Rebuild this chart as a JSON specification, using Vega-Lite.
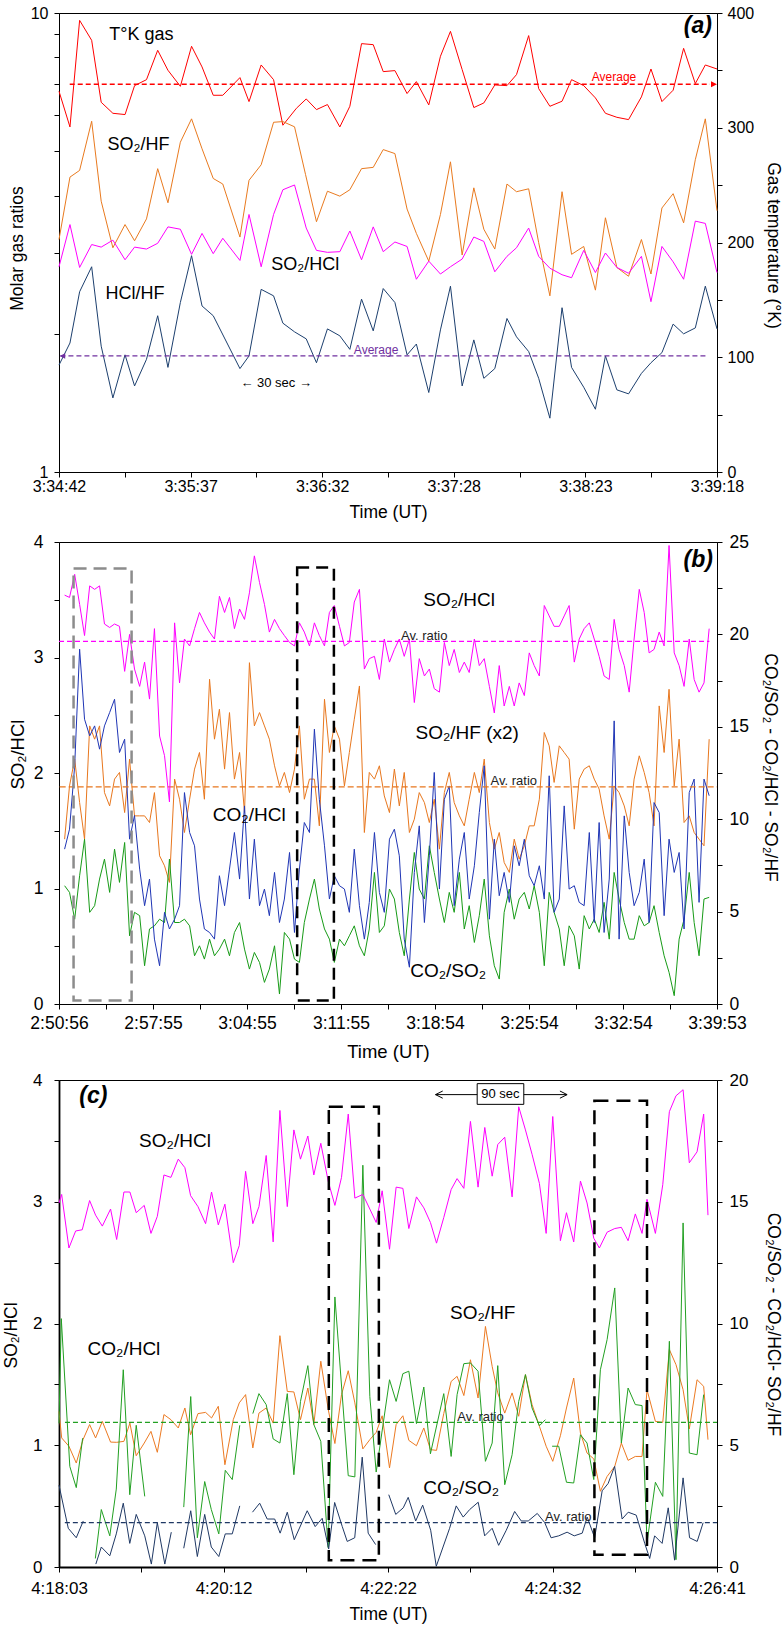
{
"$schema":"https://vega.github.io/schema/vega-lite/v6.json",
"padding":{"left":1,"top":4,"right":2,"bottom":2},
"datasets":{
"a_T":[{"t":0,"v":331.8},{"t":4.6,"v":300.7},{"t":8.65,"v":393.6},{"t":13.7,"v":376.2},{"t":17.7,"v":322.2},{"t":22.6,"v":312.6},{"t":27.7,"v":311.5},{"t":31.7,"v":336.7},{"t":36.7,"v":341.9},{"t":41.4,"v":367.5},{"t":45.7,"v":350.1},{"t":50.9,"v":336.1},{"t":55.6,"v":371},{"t":60,"v":353},{"t":64.7,"v":328.3},{"t":68.7,"v":328.3},{"t":75.9,"v":343.7},{"t":79.7,"v":322.8},{"t":84.8,"v":354.7},{"t":90,"v":341.9},{"t":93.9,"v":302.2},{"t":99.6,"v":317},{"t":103.7,"v":325.1},{"t":108,"v":315.8},{"t":112.6,"v":320.2},{"t":117.8,"v":300.7},{"t":122,"v":318.7},{"t":126.9,"v":373.3},{"t":131.8,"v":372.4},{"t":136,"v":348.9},{"t":140.9,"v":349.8},{"t":146,"v":329.8},{"t":149.9,"v":340.2},{"t":155.1,"v":319.9},{"t":160,"v":362.3},{"t":164.2,"v":384},{"t":169.1,"v":350.7},{"t":174,"v":317.6},{"t":178.2,"v":321.6},{"t":182.8,"v":337.3},{"t":187.9,"v":336.7},{"t":191.9,"v":346.3},{"t":197,"v":380.3},{"t":201.2,"v":334.1},{"t":205.9,"v":318.7},{"t":211,"v":323.1},{"t":215,"v":341.9},{"t":220.1,"v":336.7},{"t":225,"v":326},{"t":229.2,"v":312.6},{"t":234,"v":309.1},{"t":238.9,"v":307.1},{"t":244.3,"v":326.9},{"t":248.3,"v":351.2},{"t":252.9,"v":322.8},{"t":257.6,"v":332.7},{"t":262,"v":369.2},{"t":266.9,"v":338.5},{"t":271.1,"v":354.7},{"t":276,"v":351.2}],
"a_hf":[{"t":0,"v":3.21},{"t":4.6,"v":4.39},{"t":8.65,"v":4.54},{"t":13.7,"v":5.81},{"t":17.7,"v":3.89},{"t":22.6,"v":3.08},{"t":27.7,"v":3.46},{"t":31.7,"v":3.19},{"t":36.7,"v":3.56},{"t":41.4,"v":4.58},{"t":45.7,"v":3.86},{"t":50.9,"v":5.23},{"t":55.6,"v":5.88},{"t":60,"v":5.06},{"t":64.7,"v":4.36},{"t":68.7,"v":4.24},{"t":75.9,"v":3.25},{"t":79.7,"v":4.32},{"t":84.8,"v":4.67},{"t":90,"v":5.78},{"t":93.9,"v":5.8},{"t":98.8,"v":5.65},{"t":103.4,"v":4.45},{"t":108,"v":3.51},{"t":112.6,"v":4.09},{"t":117.8,"v":3.99},{"t":122,"v":4.12},{"t":126.9,"v":4.58},{"t":131.8,"v":4.61},{"t":136,"v":5.04},{"t":140.9,"v":4.94},{"t":146,"v":3.74},{"t":149.9,"v":3.31},{"t":155.1,"v":2.88},{"t":160,"v":3.64},{"t":164.2,"v":4.74},{"t":169.1,"v":2.97},{"t":174,"v":4.16},{"t":178.2,"v":3.38},{"t":182.8,"v":3.06},{"t":187.9,"v":4.24},{"t":191.9,"v":4.08},{"t":197,"v":4.14},{"t":201.2,"v":3.16},{"t":205.9,"v":2.42},{"t":211,"v":4.08},{"t":215,"v":2.98},{"t":220.1,"v":3.1},{"t":225,"v":2.49},{"t":229.2,"v":3.58},{"t":234,"v":2.79},{"t":238.9,"v":2.67},{"t":244.3,"v":3.21},{"t":248.3,"v":2.7},{"t":252.9,"v":3.76},{"t":257.6,"v":4.04},{"t":262,"v":3.49},{"t":266.9,"v":4.79},{"t":271.1,"v":5.88},{"t":276,"v":3.71}],
"a_hcl":[{"t":0,"v":2.8},{"t":4.6,"v":3.46},{"t":8.65,"v":2.79},{"t":13.7,"v":3.13},{"t":17.7,"v":3.09},{"t":22.6,"v":3.2},{"t":27.7,"v":2.9},{"t":31.7,"v":3.09},{"t":36.7,"v":3.06},{"t":41.4,"v":3.15},{"t":45.7,"v":3.42},{"t":50.9,"v":3.38},{"t":55.6,"v":2.98},{"t":60,"v":3.31},{"t":64.7,"v":2.99},{"t":68.7,"v":3.23},{"t":75.9,"v":2.89},{"t":79.7,"v":3.64},{"t":84.8,"v":2.8},{"t":90,"v":3.64},{"t":93.9,"v":4.12},{"t":98.8,"v":4.22},{"t":103.7,"v":3.4},{"t":108,"v":3.04},{"t":112.6,"v":3.01},{"t":117.8,"v":3.02},{"t":122,"v":3.35},{"t":126.9,"v":2.9},{"t":131.8,"v":3.42},{"t":136,"v":3.02},{"t":140.9,"v":3.17},{"t":146,"v":3.1},{"t":149.9,"v":2.63},{"t":155.1,"v":2.88},{"t":160,"v":2.7},{"t":164.2,"v":2.8},{"t":169.1,"v":2.91},{"t":174,"v":3.25},{"t":178.2,"v":3.18},{"t":182.8,"v":2.73},{"t":187.9,"v":2.95},{"t":191.9,"v":3.08},{"t":197,"v":3.4},{"t":201.2,"v":2.95},{"t":205.9,"v":2.78},{"t":211,"v":2.69},{"t":215,"v":2.65},{"t":220.1,"v":3.04},{"t":225,"v":2.72},{"t":229.2,"v":3},{"t":234,"v":2.79},{"t":238.9,"v":2.71},{"t":244.3,"v":2.95},{"t":248.3,"v":2.35},{"t":252.9,"v":3.1},{"t":257.6,"v":2.87},{"t":262,"v":2.63},{"t":266.9,"v":3.52},{"t":271.1,"v":3.48},{"t":276,"v":2.72}],
"a_hclhf":[{"t":0,"v":1.71},{"t":4.6,"v":1.91},{"t":8.65,"v":2.47},{"t":13.7,"v":2.8},{"t":17.7,"v":1.88},{"t":22.6,"v":1.45},{"t":27.7,"v":1.8},{"t":31.7,"v":1.54},{"t":36.7,"v":1.76},{"t":41.4,"v":2.19},{"t":45.7,"v":1.69},{"t":50.9,"v":2.34},{"t":55.6,"v":2.96},{"t":60,"v":2.3},{"t":64.7,"v":2.19},{"t":75.9,"v":1.68},{"t":79.7,"v":1.79},{"t":84.8,"v":2.5},{"t":90,"v":2.42},{"t":93.9,"v":2.11},{"t":98.8,"v":2.02},{"t":103.7,"v":1.95},{"t":108,"v":1.73},{"t":112.6,"v":2.05},{"t":117.8,"v":1.98},{"t":122,"v":1.85},{"t":126.9,"v":2.38},{"t":131.8,"v":2.03},{"t":136,"v":2.51},{"t":140.9,"v":2.34},{"t":146,"v":1.8},{"t":149.9,"v":1.9},{"t":155.1,"v":1.49},{"t":160,"v":2.04},{"t":164.2,"v":2.54},{"t":169.1,"v":1.54},{"t":174,"v":1.94},{"t":178.2,"v":1.6},{"t":182.8,"v":1.68},{"t":187.9,"v":2.16},{"t":191.9,"v":1.97},{"t":197,"v":1.83},{"t":201.2,"v":1.6},{"t":205.9,"v":1.31},{"t":211,"v":2.28},{"t":215,"v":1.69},{"t":220.1,"v":1.53},{"t":225,"v":1.37},{"t":229.2,"v":1.79},{"t":234,"v":1.51},{"t":238.9,"v":1.48},{"t":244.3,"v":1.64},{"t":248.3,"v":1.73},{"t":252.9,"v":1.82},{"t":257.6,"v":2.1},{"t":262,"v":2},{"t":266.9,"v":2.06},{"t":271.1,"v":2.54},{"t":276,"v":2.05}],
"b_hcl":[{"t":25,"v":3.54},{"t":47,"v":3.52},{"t":70,"v":3.72},{"t":92,"v":3.46},{"t":114,"v":3.19},{"t":137,"v":3.62},{"t":159,"v":3.59},{"t":181,"v":3.62},{"t":203,"v":3.29},{"t":226,"v":3.26},{"t":248,"v":3.29},{"t":270,"v":3.27},{"t":293,"v":2.88},{"t":315,"v":3.2},{"t":337,"v":2.9},{"t":360,"v":2.75},{"t":382,"v":2.96},{"t":404,"v":2.64},{"t":426,"v":3.25},{"t":449,"v":2.32},{"t":471,"v":2.15},{"t":493,"v":1.75},{"t":516,"v":3.3},{"t":538,"v":2.78},{"t":560,"v":3.16},{"t":583,"v":3.1},{"t":605,"v":3.25},{"t":627,"v":3.39},{"t":649,"v":3.3},{"t":672,"v":3.22},{"t":694,"v":3.16},{"t":716,"v":3.53},{"t":739,"v":3.39},{"t":761,"v":3.52},{"t":783,"v":3.25},{"t":806,"v":3.42},{"t":828,"v":3.33},{"t":850,"v":3.56},{"t":872,"v":3.88},{"t":895,"v":3.65},{"t":917,"v":3.46},{"t":939,"v":3.22},{"t":962,"v":3.33},{"t":984,"v":3.25},{"t":1006,"v":3.19},{"t":1029,"v":3.13},{"t":1051,"v":3.1},{"t":1073,"v":3.3},{"t":1095,"v":3.22},{"t":1118,"v":3.1},{"t":1140,"v":3.3},{"t":1162,"v":3.19},{"t":1185,"v":3.1},{"t":1207,"v":3.39},{"t":1229,"v":3.45},{"t":1252,"v":3.27},{"t":1274,"v":3.1},{"t":1296,"v":3.13},{"t":1318,"v":3.48},{"t":1341,"v":3.59},{"t":1363,"v":2.9},{"t":1385,"v":2.99},{"t":1408,"v":3.01},{"t":1430,"v":2.81},{"t":1452,"v":3.16},{"t":1475,"v":2.96},{"t":1497,"v":3.07},{"t":1519,"v":3.16},{"t":1541,"v":3.01},{"t":1564,"v":3.16},{"t":1586,"v":2.61},{"t":1608,"v":2.99},{"t":1631,"v":2.84},{"t":1653,"v":2.9},{"t":1675,"v":2.73},{"t":1698,"v":2.7},{"t":1720,"v":3.13},{"t":1742,"v":2.93},{"t":1764,"v":3.07},{"t":1787,"v":2.87},{"t":1809,"v":2.96},{"t":1831,"v":2.87},{"t":1854,"v":3.16},{"t":1876,"v":2.93},{"t":1898,"v":2.99},{"t":1921,"v":2.75},{"t":1943,"v":2.52},{"t":1965,"v":2.93},{"t":1987,"v":2.58},{"t":2010,"v":2.75},{"t":2032,"v":2.58},{"t":2054,"v":2.78},{"t":2077,"v":2.67},{"t":2099,"v":3.04},{"t":2121,"v":2.93},{"t":2144,"v":2.84},{"t":2166,"v":3.45},{"t":2188,"v":3.36},{"t":2210,"v":3.27},{"t":2233,"v":3.27},{"t":2255,"v":3.36},{"t":2277,"v":3.45},{"t":2300,"v":2.96},{"t":2322,"v":3.16},{"t":2344,"v":3.25},{"t":2367,"v":3.3},{"t":2389,"v":3.16},{"t":2411,"v":3.01},{"t":2433,"v":2.84},{"t":2456,"v":2.81},{"t":2478,"v":3.33},{"t":2500,"v":3.07},{"t":2523,"v":2.93},{"t":2545,"v":2.7},{"t":2567,"v":3.16},{"t":2590,"v":3.59},{"t":2612,"v":3.39},{"t":2634,"v":3.04},{"t":2656,"v":3.07},{"t":2679,"v":3.22},{"t":2701,"v":3.1},{"t":2723,"v":3.97},{"t":2746,"v":3.04},{"t":2768,"v":2.93},{"t":2790,"v":2.75},{"t":2813,"v":3.16},{"t":2835,"v":2.81},{"t":2857,"v":2.7},{"t":2879,"v":2.78},{"t":2902,"v":3.25}],
"b_hf":[{"t":25,"v":8.92},{"t":47,"v":11.8},{"t":70,"v":13.25},{"t":92,"v":10.9},{"t":114,"v":8.92},{"t":137,"v":15.05},{"t":159,"v":14.33},{"t":181,"v":15.05},{"t":203,"v":11.44},{"t":226,"v":10.72},{"t":248,"v":12.17},{"t":270,"v":12.53},{"t":293,"v":10.36},{"t":315,"v":13.25},{"t":337,"v":10.18},{"t":360,"v":10.18},{"t":382,"v":10.18},{"t":404,"v":9.82},{"t":426,"v":11.44},{"t":449,"v":8.02},{"t":471,"v":7.48},{"t":493,"v":6.58},{"t":516,"v":12.17},{"t":538,"v":11.08},{"t":560,"v":9.28},{"t":583,"v":11.08},{"t":605,"v":12.71},{"t":627,"v":13.61},{"t":649,"v":11.08},{"t":672,"v":17.57},{"t":694,"v":14.33},{"t":716,"v":15.95},{"t":739,"v":12.71},{"t":761,"v":15.77},{"t":783,"v":12.17},{"t":806,"v":13.61},{"t":828,"v":10.36},{"t":850,"v":18.47},{"t":872,"v":15.05},{"t":895,"v":15.77},{"t":917,"v":15.05},{"t":939,"v":14.33},{"t":962,"v":12.89},{"t":984,"v":11.8},{"t":1006,"v":12.53},{"t":1029,"v":11.44},{"t":1051,"v":12.71},{"t":1073,"v":15.05},{"t":1095,"v":11.08},{"t":1118,"v":12.17},{"t":1140,"v":12.17},{"t":1162,"v":9.64},{"t":1185,"v":16.49},{"t":1207,"v":13.61},{"t":1229,"v":15.05},{"t":1252,"v":14.33},{"t":1274,"v":11.8},{"t":1296,"v":13.61},{"t":1318,"v":15.41},{"t":1341,"v":17.21},{"t":1363,"v":9.28},{"t":1385,"v":12.53},{"t":1408,"v":12.17},{"t":1430,"v":12.89},{"t":1452,"v":11.26},{"t":1475,"v":10.36},{"t":1497,"v":12.71},{"t":1519,"v":10.72},{"t":1541,"v":12.53},{"t":1564,"v":9.28},{"t":1586,"v":10},{"t":1608,"v":11.44},{"t":1631,"v":10.9},{"t":1653,"v":9.82},{"t":1675,"v":11.08},{"t":1698,"v":8.38},{"t":1720,"v":11.44},{"t":1742,"v":12.53},{"t":1764,"v":10.9},{"t":1787,"v":10.18},{"t":1809,"v":9.64},{"t":1831,"v":11.08},{"t":1854,"v":12.53},{"t":1876,"v":11.44},{"t":1898,"v":13.25},{"t":1921,"v":9.82},{"t":1943,"v":8.38},{"t":1965,"v":9.28},{"t":1987,"v":7.66},{"t":2010,"v":7.12},{"t":2032,"v":8.92},{"t":2054,"v":7.84},{"t":2077,"v":8.56},{"t":2099,"v":9.64},{"t":2121,"v":9.64},{"t":2144,"v":11.08},{"t":2166,"v":14.69},{"t":2188,"v":13.97},{"t":2210,"v":11.99},{"t":2233,"v":13.97},{"t":2255,"v":13.61},{"t":2277,"v":13.25},{"t":2300,"v":9.46},{"t":2322,"v":12.17},{"t":2344,"v":12.71},{"t":2367,"v":12.89},{"t":2389,"v":12.17},{"t":2411,"v":11.63},{"t":2433,"v":10.18},{"t":2456,"v":8.92},{"t":2478,"v":11.8},{"t":2500,"v":11.44},{"t":2523,"v":10.72},{"t":2545,"v":9.64},{"t":2567,"v":12.17},{"t":2590,"v":13.43},{"t":2612,"v":12.53},{"t":2634,"v":11.44},{"t":2656,"v":9.64},{"t":2679,"v":16.13},{"t":2701,"v":13.61},{"t":2723,"v":17.03},{"t":2746,"v":11.8},{"t":2768,"v":14.33},{"t":2790,"v":9.82},{"t":2813,"v":10.18},{"t":2835,"v":9.28},{"t":2857,"v":8.92},{"t":2879,"v":8.56},{"t":2902,"v":14.33}],
"b_co2hcl":[{"t":25,"v":8.38},{"t":47,"v":9.46},{"t":70,"v":12.89},{"t":92,"v":19.2},{"t":114,"v":15.41},{"t":137,"v":14.51},{"t":159,"v":15.05},{"t":181,"v":13.79},{"t":203,"v":15.05},{"t":226,"v":15.77},{"t":248,"v":16.49},{"t":270,"v":13.61},{"t":293,"v":14.33},{"t":315,"v":8.92},{"t":337,"v":10.2},{"t":360,"v":7.3},{"t":382,"v":5.32},{"t":404,"v":6.76},{"t":426,"v":3.51},{"t":449,"v":2.07},{"t":471,"v":4.96},{"t":493,"v":4.06},{"t":516,"v":4.59},{"t":538,"v":5.32},{"t":560,"v":11.44},{"t":583,"v":9.28},{"t":605,"v":8.56},{"t":627,"v":5.68},{"t":649,"v":4.06},{"t":672,"v":3.87},{"t":694,"v":3.51},{"t":716,"v":6.94},{"t":739,"v":5.32},{"t":761,"v":7.3},{"t":783,"v":9.28},{"t":806,"v":6.76},{"t":828,"v":10.72},{"t":850,"v":5.68},{"t":872,"v":8.92},{"t":895,"v":5.32},{"t":917,"v":6.22},{"t":939,"v":4.78},{"t":962,"v":7.12},{"t":984,"v":4.41},{"t":1006,"v":5.68},{"t":1029,"v":8.2},{"t":1051,"v":3.87},{"t":1073,"v":7.3},{"t":1095,"v":9.82},{"t":1118,"v":9.28},{"t":1140,"v":14.87},{"t":1162,"v":11.08},{"t":1185,"v":8.56},{"t":1207,"v":5.68},{"t":1229,"v":6.94},{"t":1252,"v":6.4},{"t":1274,"v":6.22},{"t":1296,"v":4.96},{"t":1318,"v":8.38},{"t":1341,"v":5.32},{"t":1363,"v":3.51},{"t":1385,"v":5.5},{"t":1408,"v":9.28},{"t":1430,"v":6.04},{"t":1452,"v":4.96},{"t":1475,"v":8.92},{"t":1497,"v":9.46},{"t":1519,"v":8.02},{"t":1541,"v":3.51},{"t":1564,"v":1.99},{"t":1586,"v":7.12},{"t":1608,"v":9.64},{"t":1631,"v":4.41},{"t":1653,"v":8.02},{"t":1675,"v":12.53},{"t":1698,"v":6.22},{"t":1720,"v":11.08},{"t":1742,"v":11.8},{"t":1764,"v":5.32},{"t":1787,"v":7.84},{"t":1809,"v":9.28},{"t":1831,"v":5.68},{"t":1854,"v":7.48},{"t":1876,"v":10.36},{"t":1898,"v":12.89},{"t":1921,"v":4.59},{"t":1943,"v":8.92},{"t":1965,"v":5.86},{"t":1987,"v":7.12},{"t":2010,"v":5.5},{"t":2032,"v":8.56},{"t":2054,"v":7.48},{"t":2077,"v":8.92},{"t":2099,"v":6.94},{"t":2121,"v":6.4},{"t":2144,"v":7.48},{"t":2166,"v":5.68},{"t":2188,"v":12.35},{"t":2210,"v":4.96},{"t":2233,"v":5.68},{"t":2255,"v":10.72},{"t":2277,"v":6.22},{"t":2300,"v":6.4},{"t":2322,"v":5.5},{"t":2344,"v":5.32},{"t":2367,"v":9.28},{"t":2389,"v":4.41},{"t":2411,"v":9.82},{"t":2433,"v":3.87},{"t":2456,"v":6.76},{"t":2478,"v":15.32},{"t":2500,"v":3.51},{"t":2523,"v":10.18},{"t":2545,"v":7.12},{"t":2567,"v":5.32},{"t":2590,"v":6.04},{"t":2612,"v":7.84},{"t":2634,"v":4.41},{"t":2656,"v":10.9},{"t":2679,"v":10.36},{"t":2701,"v":4.78},{"t":2723,"v":8.92},{"t":2746,"v":7.12},{"t":2768,"v":8.2},{"t":2790,"v":4.06},{"t":2813,"v":11.44},{"t":2835,"v":12.17},{"t":2857,"v":5.5},{"t":2879,"v":12.17},{"t":2902,"v":11.27}],
"b_co2so2":[{"t":25,"v":6.4},{"t":47,"v":6.04},{"t":70,"v":4.59},{"t":92,"v":6.94},{"t":114,"v":8.92},{"t":137,"v":4.96},{"t":159,"v":5.32},{"t":181,"v":6.76},{"t":203,"v":7.84},{"t":226,"v":6.04},{"t":248,"v":8.38},{"t":270,"v":6.58},{"t":293,"v":8.74},{"t":315,"v":3.69},{"t":337,"v":4.96},{"t":360,"v":4.78},{"t":382,"v":2.07},{"t":404,"v":4.06},{"t":426,"v":4.23},{"t":449,"v":4.59},{"t":471,"v":4.41},{"t":493,"v":7.84},{"t":516,"v":4.41},{"t":538,"v":4.41},{"t":560,"v":4.59},{"t":583,"v":4.23},{"t":605,"v":2.61},{"t":627,"v":3.15},{"t":649,"v":2.43},{"t":672,"v":3.51},{"t":694,"v":2.61},{"t":716,"v":2.97},{"t":739,"v":3.51},{"t":761,"v":2.61},{"t":783,"v":3.87},{"t":806,"v":4.41},{"t":828,"v":2.97},{"t":850,"v":1.89},{"t":872,"v":2.79},{"t":895,"v":2.25},{"t":917,"v":1.17},{"t":939,"v":1.89},{"t":962,"v":3.15},{"t":984,"v":0.54},{"t":1006,"v":3.87},{"t":1029,"v":3.51},{"t":1051,"v":2.43},{"t":1073,"v":2.25},{"t":1095,"v":4.41},{"t":1118,"v":5.68},{"t":1140,"v":6.76},{"t":1162,"v":5.14},{"t":1185,"v":4.06},{"t":1207,"v":3.51},{"t":1229,"v":2.25},{"t":1252,"v":3.51},{"t":1274,"v":3.15},{"t":1296,"v":3.69},{"t":1318,"v":4.23},{"t":1341,"v":3.15},{"t":1363,"v":2.61},{"t":1385,"v":4.06},{"t":1408,"v":7.12},{"t":1430,"v":3.87},{"t":1452,"v":4.23},{"t":1475,"v":6.22},{"t":1497,"v":5.68},{"t":1519,"v":3.87},{"t":1541,"v":2.61},{"t":1564,"v":5.68},{"t":1586,"v":8.2},{"t":1608,"v":6.22},{"t":1631,"v":5.68},{"t":1653,"v":8.56},{"t":1675,"v":7.12},{"t":1698,"v":5.68},{"t":1720,"v":4.41},{"t":1742,"v":6.04},{"t":1764,"v":4.96},{"t":1787,"v":7.12},{"t":1809,"v":4.06},{"t":1831,"v":5.32},{"t":1854,"v":3.33},{"t":1876,"v":4.78},{"t":1898,"v":6.76},{"t":1921,"v":3.69},{"t":1943,"v":2.07},{"t":1965,"v":1.35},{"t":1987,"v":4.96},{"t":2010,"v":6.22},{"t":2032,"v":4.59},{"t":2054,"v":5.68},{"t":2077,"v":6.04},{"t":2099,"v":5.14},{"t":2121,"v":6.4},{"t":2144,"v":4.96},{"t":2166,"v":2.07},{"t":2188,"v":6.04},{"t":2210,"v":4.96},{"t":2233,"v":4.06},{"t":2255,"v":2.07},{"t":2277,"v":4.23},{"t":2300,"v":3.69},{"t":2322,"v":1.89},{"t":2344,"v":4.78},{"t":2367,"v":4.06},{"t":2389,"v":4.59},{"t":2411,"v":3.87},{"t":2433,"v":5.5},{"t":2456,"v":3.51},{"t":2478,"v":7.12},{"t":2500,"v":5.68},{"t":2523,"v":4.41},{"t":2545,"v":3.51},{"t":2567,"v":3.51},{"t":2590,"v":4.78},{"t":2612,"v":4.23},{"t":2634,"v":4.41},{"t":2656,"v":5.32},{"t":2679,"v":3.87},{"t":2701,"v":2.61},{"t":2723,"v":1.71},{"t":2746,"v":0.45},{"t":2768,"v":3.51},{"t":2790,"v":4.59},{"t":2813,"v":7.12},{"t":2835,"v":4.41},{"t":2857,"v":2.61},{"t":2879,"v":5.68},{"t":2902,"v":5.77}],
"c_hcl":[{"t":0,"v":2.99},{"t":2.1,"v":3.06},{"t":7.8,"v":2.62},{"t":13.1,"v":2.76},{"t":18.3,"v":2.77},{"t":24.1,"v":3.01},{"t":28.8,"v":2.89},{"t":34.1,"v":2.8},{"t":40.6,"v":2.94},{"t":45.4,"v":2.69},{"t":51.1,"v":3.08},{"t":55.8,"v":3.08},{"t":60.8,"v":2.91},{"t":67.1,"v":2.97},{"t":72.4,"v":2.74},{"t":77.4,"v":2.88},{"t":82.6,"v":3.22},{"t":88.1,"v":3.2},{"t":93.9,"v":3.35},{"t":99.1,"v":3.28},{"t":103.6,"v":3.05},{"t":109.4,"v":2.96},{"t":115.4,"v":2.82},{"t":120.1,"v":3.08},{"t":125.4,"v":2.81},{"t":130.6,"v":2.98},{"t":137.2,"v":2.5},{"t":141.9,"v":2.64},{"t":146.9,"v":3.25},{"t":152.6,"v":2.82},{"t":157.4,"v":2.96},{"t":163.1,"v":3.38},{"t":168.6,"v":2.67},{"t":173.9,"v":3.75},{"t":179.7,"v":2.96},{"t":184.9,"v":3.59},{"t":190.1,"v":3.35},{"t":195.9,"v":3.54},{"t":200.6,"v":3.22},{"t":206.1,"v":3.48},{"t":211.9,"v":3.17},{"t":217.2,"v":2.97},{"t":222.4,"v":3.2},{"t":227.7,"v":3.72},{"t":232.9,"v":3.03},{"t":239.2,"v":3.06},{"t":244.7,"v":2.94},{"t":249.7,"v":2.83},{"t":254.4,"v":3.09},{"t":260.2,"v":2.61},{"t":265.4,"v":3.12},{"t":270.7,"v":3.11},{"t":275.4,"v":2.78},{"t":281.4,"v":3.04},{"t":287.2,"v":2.95},{"t":292.4,"v":2.83},{"t":297.2,"v":2.66},{"t":302.9,"v":2.87},{"t":308.7,"v":3.1},{"t":313.4,"v":3.19},{"t":318.7,"v":3.11},{"t":323.9,"v":3.66},{"t":329.9,"v":3.12},{"t":335.2,"v":3.61},{"t":341,"v":3.21},{"t":345.4,"v":3.47},{"t":350.9,"v":3.53},{"t":356.7,"v":3.04},{"t":361.9,"v":3.78},{"t":367.2,"v":3.59},{"t":372.4,"v":3.39},{"t":378.2,"v":3.15},{"t":383.5,"v":2.74},{"t":388.7,"v":3.7},{"t":394.7,"v":2.68},{"t":399.5,"v":2.91},{"t":405.2,"v":2.67},{"t":410.5,"v":3.17},{"t":415.7,"v":2.99},{"t":421,"v":2.7},{"t":425.4,"v":2.62},{"t":431.5,"v":2.75},{"t":437.5,"v":2.78},{"t":442.7,"v":2.79},{"t":448,"v":2.68},{"t":453.7,"v":2.9},{"t":459,"v":2.74},{"t":462.9,"v":3.02},{"t":469.5,"v":2.74},{"t":475.3,"v":3.14},{"t":480.5,"v":3.74},{"t":485.7,"v":3.87},{"t":491.3,"v":3.92},{"t":496.2,"v":3.32},{"t":502.3,"v":3.41},{"t":507.5,"v":3.72},{"t":510.9,"v":2.89}],
"c_hf":[{"t":0,"v":6.39},{"t":2.1,"v":5.3},{"t":7.8,"v":4.96},{"t":13.6,"v":4.27},{"t":18.9,"v":5.23},{"t":24.1,"v":5.85},{"t":28.8,"v":5.3},{"t":34.1,"v":5.98},{"t":40.6,"v":5.13},{"t":45.4,"v":5.12},{"t":51.1,"v":5.16},{"t":55.8,"v":5.91},{"t":60.8,"v":4.57},{"t":67.1,"v":5.09},{"t":72.4,"v":5.57},{"t":77.4,"v":4.71},{"t":82.6,"v":6.26},{"t":88.1,"v":6.05},{"t":93.9,"v":5.71},{"t":99.1,"v":6.53},{"t":103.6,"v":5.43},{"t":109.4,"v":6.3},{"t":115.4,"v":6.35},{"t":120.1,"v":6.12},{"t":125.4,"v":6.6},{"t":130.6,"v":4.2},{"t":137.2,"v":6.05},{"t":141.9,"v":6.74},{"t":146.9,"v":7.08},{"t":152.6,"v":4.89},{"t":157.4,"v":6.32},{"t":163.1,"v":6.53},{"t":168.6,"v":5.91},{"t":173.9,"v":9.5},{"t":179.7,"v":7.21},{"t":184.9,"v":7.19},{"t":190.1,"v":6.05},{"t":195.9,"v":7.35},{"t":200.6,"v":5.85},{"t":206.1,"v":8.45},{"t":211.9,"v":6.49},{"t":217.2,"v":5.07},{"t":222.4,"v":7.08},{"t":227.7,"v":8.06},{"t":232.9,"v":6.74},{"t":239.2,"v":4.85},{"t":244.7,"v":5.23},{"t":249.7,"v":5.53},{"t":254.4,"v":6.21},{"t":260.2,"v":4.07},{"t":265.4,"v":5.85},{"t":270.7,"v":6.21},{"t":275.4,"v":5.2},{"t":281.4,"v":4.98},{"t":287.2,"v":5.71},{"t":292.4,"v":4.82},{"t":297.2,"v":4.79},{"t":302.9,"v":6.3},{"t":308.7,"v":7.62},{"t":313.4,"v":7.83},{"t":318.7,"v":7.04},{"t":323.9,"v":8.51},{"t":329.9,"v":6.94},{"t":335.7,"v":9.88},{"t":341,"v":8.24},{"t":345.4,"v":7.15},{"t":350.9,"v":6.32},{"t":356.7,"v":7.15},{"t":361.9,"v":6.19},{"t":367.2,"v":7.9},{"t":372.4,"v":6.67},{"t":378.2,"v":5.78},{"t":383.5,"v":4.96},{"t":388.7,"v":4.34},{"t":394.7,"v":5.39},{"t":399.5,"v":6.53},{"t":405.2,"v":7.76},{"t":410.5,"v":5.5},{"t":415.7,"v":4.68},{"t":421,"v":4.44},{"t":426.2,"v":3.11},{"t":431.5,"v":3.72},{"t":437.5,"v":4.13},{"t":442.7,"v":5.09},{"t":448,"v":4.38},{"t":453.7,"v":4.54},{"t":459,"v":4.54},{"t":462.9,"v":7.28},{"t":469.5,"v":5.98},{"t":475.3,"v":5.94},{"t":480.5,"v":8.93},{"t":485.7,"v":8.31},{"t":491.3,"v":7.28},{"t":496.2,"v":5.67},{"t":502.3,"v":7.69},{"t":507.5,"v":7.42},{"t":510.9,"v":5.23}],
"c_co2hcl":[{"g":1,"t":0,"v":5.9},{"g":1,"t":1.8,"v":10.2},{"g":1,"t":8.5,"v":4.13},{"g":1,"t":13.6,"v":3.26},{"g":1,"t":18.6,"v":5.29},{"g":2,"t":28.6,"v":0.35},{"g":2,"t":33.3,"v":2.36},{"g":2,"t":40,"v":1.28},{"g":2,"t":45.1,"v":3.2},{"g":2,"t":50.6,"v":8.1},{"g":2,"t":55.7,"v":2.97},{"g":2,"t":60.8,"v":5.82},{"g":2,"t":67.5,"v":2.9},{"g":3,"t":98.2,"v":2.46},{"g":3,"t":103.7,"v":7},{"g":3,"t":108.9,"v":1.2},{"g":3,"t":114.7,"v":3.51},{"g":3,"t":119.9,"v":2.36},{"g":3,"t":125.8,"v":1.36},{"g":3,"t":130.9,"v":3.97},{"g":3,"t":136.4,"v":3.59},{"g":3,"t":142.3,"v":5.82},{"g":4,"t":152.6,"v":6.3},{"g":4,"t":157.4,"v":7.12},{"g":4,"t":163.1,"v":6.67},{"g":4,"t":168.6,"v":5.26},{"g":4,"t":173.9,"v":5.09},{"g":4,"t":179.7,"v":7.12},{"g":4,"t":184.9,"v":3.79},{"g":4,"t":190.1,"v":6.8},{"g":4,"t":195.9,"v":8.27},{"g":4,"t":200.6,"v":5.85},{"g":4,"t":206.1,"v":5.16},{"g":4,"t":211.9,"v":0.8},{"g":4,"t":217.2,"v":11.09},{"g":4,"t":227.7,"v":3.75},{"g":4,"t":232.9,"v":3.7},{"g":4,"t":239.2,"v":16.5},{"g":4,"t":244.7,"v":7},{"g":4,"t":249.7,"v":3.9},{"g":4,"t":260.2,"v":7.69},{"g":4,"t":265.4,"v":6.8},{"g":4,"t":270.7,"v":7.94},{"g":4,"t":275.4,"v":8.04},{"g":4,"t":281.4,"v":5.89},{"g":4,"t":287.2,"v":7.39},{"g":4,"t":292.4,"v":4.65},{"g":4,"t":302.9,"v":7.12},{"g":4,"t":308.7,"v":4.54},{"g":4,"t":313.4,"v":7.08},{"g":4,"t":318.7,"v":8.35},{"g":4,"t":323.9,"v":8.38},{"g":4,"t":329.9,"v":8.04},{"g":4,"t":335.7,"v":4.34},{"g":4,"t":341,"v":5.09},{"g":4,"t":345.4,"v":8.27},{"g":4,"t":350.9,"v":3.38},{"g":4,"t":356.7,"v":4.61},{"g":4,"t":361.9,"v":6.8},{"g":4,"t":367.2,"v":7.9},{"g":4,"t":372.4,"v":6.53},{"g":4,"t":378.2,"v":5.8},{"g":4,"t":382.9,"v":6.05},{"g":5,"t":388.2,"v":4.96},{"g":5,"t":393.4,"v":4.96},{"g":5,"t":399.5,"v":3.48},{"g":5,"t":405.2,"v":3.45},{"g":5,"t":410.5,"v":5.43},{"g":5,"t":415.7,"v":5.09},{"g":5,"t":421,"v":3.59},{"g":5,"t":426.2,"v":8.1},{"g":5,"t":431.5,"v":9.34},{"g":5,"t":437.5,"v":11.46},{"g":5,"t":442.7,"v":5.09},{"g":5,"t":448,"v":7.35},{"g":5,"t":453.7,"v":6.67},{"g":5,"t":459,"v":6.63},{"g":5,"t":462.9,"v":1},{"g":5,"t":469.5,"v":3.48},{"g":5,"t":475.3,"v":2.9},{"g":5,"t":480.5,"v":9.27},{"g":5,"t":485.7,"v":0.3},{"g":5,"t":491.3,"v":14.13},{"g":5,"t":496.2,"v":4.68},{"g":5,"t":502.3,"v":4.61},{"g":5,"t":507.5,"v":7.08}],
"c_co2so2":[{"g":1,"t":0,"v":3.36},{"g":1,"t":7.3,"v":1.59},{"g":1,"t":13.6,"v":1.2},{"g":1,"t":19.1,"v":1.89},{"g":2,"t":29,"v":0.12},{"g":2,"t":33.3,"v":0.82},{"g":2,"t":40,"v":0.46},{"g":2,"t":45.1,"v":1.36},{"g":2,"t":50.6,"v":2.62},{"g":2,"t":55.7,"v":0.97},{"g":2,"t":60.8,"v":2.16},{"g":2,"t":67.5,"v":1.28},{"g":2,"t":72.7,"v":0.12},{"g":2,"t":77.4,"v":1.82},{"g":2,"t":83.3,"v":0.12},{"g":2,"t":88.4,"v":1.43},{"g":3,"t":98.2,"v":0.77},{"g":3,"t":103.7,"v":2.31},{"g":3,"t":108.9,"v":0.43},{"g":3,"t":114.7,"v":2.16},{"g":3,"t":119.9,"v":0.82},{"g":3,"t":125.8,"v":0.43},{"g":3,"t":130.9,"v":1.36},{"g":3,"t":136.4,"v":1.36},{"g":3,"t":142.3,"v":2.51},{"g":4,"t":152.3,"v":2.25},{"g":4,"t":158,"v":2.62},{"g":4,"t":163.9,"v":1.97},{"g":4,"t":169.8,"v":1.97},{"g":4,"t":174.1,"v":1.39},{"g":4,"t":179.7,"v":2.25},{"g":4,"t":185.2,"v":1.12},{"g":4,"t":195.4,"v":2.31},{"g":4,"t":201.7,"v":1.66},{"g":4,"t":207.2,"v":2},{"g":4,"t":212.3,"v":0.74},{"g":4,"t":217,"v":2.65},{"g":4,"t":223,"v":1.66},{"g":4,"t":226.9,"v":1.05},{"g":4,"t":232.8,"v":1.2},{"g":4,"t":238.7,"v":4.51},{"g":4,"t":243.4,"v":1.39},{"g":4,"t":249.3,"v":0.92},{"g":5,"t":259.6,"v":2.97},{"g":5,"t":265.1,"v":2.16},{"g":5,"t":271,"v":2.43},{"g":5,"t":274.9,"v":2.86},{"g":5,"t":280.8,"v":1.89},{"g":5,"t":286.3,"v":2.54},{"g":5,"t":292.6,"v":1.51},{"g":5,"t":297,"v":0.03},{"g":5,"t":307.5,"v":1.59},{"g":5,"t":312.7,"v":2.51},{"g":5,"t":318.2,"v":2.05},{"g":5,"t":323.3,"v":2.36},{"g":5,"t":330,"v":2.66},{"g":5,"t":335.1,"v":1.28},{"g":5,"t":341,"v":1.59},{"g":5,"t":346.1,"v":0.89},{"g":5,"t":352.1,"v":1.51},{"g":5,"t":358.7,"v":2.28},{"g":5,"t":363.9,"v":1.89},{"g":5,"t":369.4,"v":1.89},{"g":5,"t":376.5,"v":2.2},{"g":5,"t":382.4,"v":1.82},{"g":5,"t":387.4,"v":1.2},{"g":5,"t":393.4,"v":1.28},{"g":5,"t":400,"v":1.43},{"g":5,"t":405.6,"v":1.28},{"g":5,"t":411.9,"v":1.39},{"g":5,"t":415.8,"v":2.05},{"g":5,"t":421.7,"v":1.2},{"g":5,"t":427.6,"v":3.13},{"g":5,"t":432.3,"v":3.43},{"g":5,"t":437.4,"v":4.13},{"g":5,"t":443.3,"v":1.97},{"g":5,"t":448.1,"v":2.25},{"g":5,"t":454.4,"v":2.13},{"g":5,"t":461.1,"v":0.97},{"g":5,"t":465,"v":0.35},{"g":5,"t":468.9,"v":1.28},{"g":5,"t":474.8,"v":0.97},{"g":5,"t":479.6,"v":2.43},{"g":5,"t":484.6,"v":0.28},{"g":5,"t":491.3,"v":3.66},{"g":5,"t":496.4,"v":1.2},{"g":5,"t":502.4,"v":1.05},{"g":5,"t":507.1,"v":1.82}]
},
"spacing":70,
"bounds":"flush",
"resolve":{"scale":{"x":"independent","y":"independent"}},
"vconcat":[
{
"width":658,"height":459,
"encoding":{"x":{"field":"t","type":"quantitative","scale":{"domain":[0,276],"nice":false,"zero":false},"axis":{"values":[0,27.6,55.2,82.8,110.4,138,165.6,193.2,220.8,248.4,276],"labelExpr":"['3:34:42','','3:35:37','','3:36:32','','3:37:28','','3:38:23','','3:39:18'][round(datum.value/27.6)]","title":"Time (UT)","labelFontSize":16,"titleFontSize":17.5,"labelPadding":1,"titleY":40,"titleBaseline":"middle","labelAngle":0}}},
"layer":[
{"encoding":{"y":{"field":"v","type":"quantitative","scale":{"domain":[0,400],"nice":false,"zero":false},"axis":{"orient":"right","values":[0,50,100,150,200,250,300,350,400],"labelExpr":"datum.value%100==0?(''+datum.value):''","title":"Gas temperature (°K)","labelFontSize":16,"titleFontSize":17.5,"labelPadding":5,"titleX":55,"titleY":232,"titleBaseline":"middle"}}},
"layer":[
{"data":{"name":"a_T"},"mark":{"type":"line","color":"#ff0000","strokeWidth":1},"encoding":{}},
{"data":{"values":[{"t":4.5,"t2":273,"v":337.9}]},"mark":{"type":"rule","color":"#ff0000","strokeDash":[5,3],"strokeWidth":1.3},"encoding":{"x2":{"field":"t2"}}},
{"data":{"values":[{"t":276,"v":337.9}]},"mark":{"type":"point","shape":"M0,0L-2,-1L-2,1Z","filled":true,"color":"#ff0000","size":36,"opacity":1},"encoding":{}}
]},
{"encoding":{"y":{"field":"v","type":"quantitative","scale":{"type":"log","domain":[1,10],"nice":false},"axis":{"orient":"left","values":[1,2,3,4,5,6,7,8,9,10],"labelExpr":"(datum.value==1||datum.value==10)?(''+datum.value):''","title":"Molar gas ratios","labelFontSize":16,"titleFontSize":17.5,"labelPadding":6,"titleX":-42,"titleY":235,"titleBaseline":"middle"}}},
"layer":[
{"data":{"name":"a_hf"},"mark":{"type":"line","color":"#e97a1f","strokeWidth":1},"encoding":{}},
{"data":{"name":"a_hcl"},"mark":{"type":"line","color":"#ff00ff","strokeWidth":1},"encoding":{}},
{"data":{"name":"a_hclhf"},"mark":{"type":"line","color":"#1c3f6e","strokeWidth":1},"encoding":{}},
{"data":{"values":[{"t":0.6,"t2":272.2,"v":1.79}]},"mark":{"type":"rule","color":"#7030a0","strokeDash":[5,3],"strokeWidth":1.3},"encoding":{"x2":{"field":"t2"}}},
{"data":{"values":[{"t":0.3,"v":1.79}]},"mark":{"type":"point","shape":"M0,0L2,-1L2,1Z","filled":true,"color":"#7030a0","size":30,"opacity":1},"encoding":{}},
{"data":{"values":[{"t":21.1,"v":8.97,"label":"T°K gas"},{"t":20.3,"v":5.17,"label":"SO₂/HF"},{"t":89,"v":2.82,"label":"SO₂/HCl"},{"t":19.5,"v":2.44,"label":"HCl/HF"}]},"mark":{"type":"text","align":"left","baseline":"middle","fontSize":18,"color":"black"},"encoding":{"text":{"field":"label"}}},
{"data":{"values":[{"t":232.8,"v":7.24,"label":"Average"}]},"mark":{"type":"text","align":"center","baseline":"middle","fontSize":12,"color":"#ff0000"},"encoding":{"text":{"field":"label"}}},
{"data":{"values":[{"t":133,"v":1.84,"label":"Average"}]},"mark":{"type":"text","align":"center","baseline":"middle","fontSize":12,"color":"#7030a0"},"encoding":{"text":{"field":"label"}}},
{"data":{"values":[{"t":91.1,"v":1.56,"label":"← 30 sec →"}]},"mark":{"type":"text","align":"center","baseline":"middle","fontSize":13,"color":"black"},"encoding":{"text":{"field":"label"}}},
{"data":{"values":[{"t":273.9,"v":9.35,"label":"(a)"}]},"mark":{"type":"text","align":"right","baseline":"middle","fontSize":23,"fontStyle":"italic","fontWeight":"bold","color":"black"},"encoding":{"text":{"field":"label"}}}
]}
],
"resolve":{"scale":{"y":"independent"}}
},
{
"spacing":76,
"bounds":"flush",
"resolve":{"scale":{"x":"independent","y":"independent"}},
"vconcat":[
{
"width":658,"height":462,
"encoding":{"x":{"field":"t","type":"quantitative","scale":{"domain":[0,2937],"nice":false,"zero":false},"axis":{"values":[0,209.786,419.571,629.357,839.143,1048.929,1258.714,1468.5,1678.286,1888.071,2097.857,2307.643,2517.429,2727.214,2937],"labelExpr":"['2:50:56','','2:57:55','','3:04:55','','3:11:55','','3:18:54','','3:25:54','','3:32:54','','3:39:53'][round(datum.value/209.786)]","title":"Time (UT)","labelFontSize":17.5,"titleFontSize":18.5,"labelPadding":5,"titleY":47,"titleBaseline":"middle","labelAngle":0}}},
"layer":[
{"encoding":{"y":{"field":"v","type":"quantitative","scale":{"domain":[0,25],"nice":false,"zero":false},"axis":{"orient":"right","values":[0,2.5,5,7.5,10,12.5,15,17.5,20,22.5,25],"labelExpr":"datum.value%5==0?(''+datum.value):''","title":"CO₂/SO₂ - CO₂/HCl - SO₂/HF","labelFontSize":17.5,"titleFontSize":17.5,"labelPadding":7,"titleX":52.5,"titleY":225,"titleBaseline":"middle"}}},
"layer":[
{"data":{"name":"b_hf"},"mark":{"type":"line","color":"#e8771e","strokeWidth":1},"encoding":{}},
{"data":{"name":"b_co2so2"},"mark":{"type":"line","color":"#179b17","strokeWidth":1},"encoding":{}},
{"data":{"name":"b_co2hcl"},"mark":{"type":"line","color":"#1f35b5","strokeWidth":1},"encoding":{}},
{"data":{"values":[{"t":3,"t2":2937,"v":11.75}]},"mark":{"type":"rule","color":"#e8771e","strokeDash":[6,3],"strokeWidth":1.3},"encoding":{"x2":{"field":"t2"}}}
]},
{"encoding":{"y":{"field":"v","type":"quantitative","scale":{"domain":[0,4],"nice":false,"zero":false},"axis":{"orient":"left","values":[0,0.5,1,1.5,2,2.5,3,3.5,4],"labelExpr":"datum.value%1==0?(''+datum.value):''","title":"SO₂/HCl","labelFontSize":17.5,"titleFontSize":18.5,"labelPadding":11,"titleX":-42,"titleY":212,"titleBaseline":"middle"}}},
"layer":[
{"data":{"name":"b_hcl"},"mark":{"type":"line","color":"#ff00ff","strokeWidth":1},"encoding":{}},
{"data":{"values":[{"t":0,"t2":2903,"v":3.14}]},"mark":{"type":"rule","color":"#ff00ff","strokeDash":[5,3],"strokeWidth":1.3},"encoding":{"x2":{"field":"t2"}}},
{"data":{"values":[{"t":65,"t2":324,"v":0.03,"v2":3.77}]},"mark":{"type":"rect","filled":false,"stroke":"#8c8c8c","strokeWidth":2.5,"strokeDash":[13,7]},"encoding":{"x2":{"field":"t2"},"y2":{"field":"v2"}}},
{"data":{"values":[{"t":1063,"t2":1227,"v":0.03,"v2":3.78}]},"mark":{"type":"rect","filled":false,"stroke":"#000000","strokeWidth":2.5,"strokeDash":[12,7]},"encoding":{"x2":{"field":"t2"},"y2":{"field":"v2"}}},
{"data":{"values":[{"t":1786,"v":3.5,"label":"SO₂/HCl"},{"t":1822,"v":2.35,"label":"SO₂/HF (x2)"},{"t":849,"v":1.64,"label":"CO₂/HCl"},{"t":1737,"v":0.29,"label":"CO₂/SO₂"}]},"mark":{"type":"text","align":"center","baseline":"middle","fontSize":19,"color":"black"},"encoding":{"text":{"field":"label"}}},
{"data":{"values":[{"t":1630,"v":3.19,"label":"Av. ratio"},{"t":2030,"v":1.93,"label":"Av. ratio"}]},"mark":{"type":"text","align":"center","baseline":"middle","fontSize":13,"color":"#222222"},"encoding":{"text":{"field":"label"}}},
{"data":{"values":[{"t":2919,"v":3.84,"label":"(b)"}]},"mark":{"type":"text","align":"right","baseline":"middle","fontSize":23,"fontStyle":"italic","fontWeight":"bold","color":"black"},"encoding":{"text":{"field":"label"}}}
]}
],
"resolve":{"scale":{"y":"independent"}}
},
{
"width":658,"height":487,
"encoding":{"x":{"field":"t","type":"quantitative","scale":{"domain":[0,518],"nice":false,"zero":false},"axis":{"values":[0,64.75,129.5,194.25,259,323.75,388.5,453.25,518],"labelExpr":"['4:18:03','','4:20:12','','4:22:22','','4:24:32','','4:26:41'][round(datum.value/64.75)]","title":"Time (UT)","labelFontSize":17,"titleFontSize":17.5,"labelPadding":8,"titleY":47.5,"titleBaseline":"middle","labelAngle":0,"domainWidth":1.8}}},
"layer":[
{"encoding":{"y":{"field":"v","type":"quantitative","scale":{"domain":[0,20],"nice":false,"zero":false},"axis":{"orient":"right","values":[0,2.5,5,7.5,10,12.5,15,17.5,20],"labelExpr":"datum.value%5==0?(''+datum.value):''","title":"CO₂/SO₂ -  CO₂/HCl- SO₂/HF","labelFontSize":17,"titleFontSize":17.5,"labelPadding":7,"titleX":55,"titleY":244,"titleBaseline":"middle"}}},
"layer":[
{"data":{"name":"c_hf"},"mark":{"type":"line","color":"#ec7a22","strokeWidth":1},"encoding":{}},
{"data":{"name":"c_co2hcl"},"mark":{"type":"line","color":"#22a022","strokeWidth":1},"encoding":{"detail":{"field":"g"}}},
{"data":{"name":"c_co2so2"},"mark":{"type":"line","color":"#1f3864","strokeWidth":1},"encoding":{"detail":{"field":"g"}}},
{"data":{"values":[{"t":4.7,"t2":518,"v":5.94}]},"mark":{"type":"rule","color":"#22a022","strokeDash":[5,3],"strokeWidth":1.3},"encoding":{"x2":{"field":"t2"}}},
{"data":{"values":[{"t":4.6,"t2":518,"v":1.82}]},"mark":{"type":"rule","color":"#1f3864","strokeDash":[5,3],"strokeWidth":1.3},"encoding":{"x2":{"field":"t2"}}}
]},
{"encoding":{"y":{"field":"v","type":"quantitative","scale":{"domain":[0,4],"nice":false,"zero":false},"axis":{"orient":"left","values":[0,0.5,1,1.5,2,2.5,3,3.5,4],"labelExpr":"datum.value%1==0?(''+datum.value):''","title":"SO₂/HCl","labelFontSize":17,"titleFontSize":17.5,"labelPadding":12,"titleX":-48,"titleY":255,"titleBaseline":"middle","domainWidth":1.8}}},
"layer":[
{"data":{"name":"c_hcl"},"mark":{"type":"line","color":"#ff00ff","strokeWidth":1},"encoding":{}},
{"data":{"values":[{"t":212.4,"t2":251.8,"v":0.055,"v2":3.78},{"t":421.5,"t2":462.9,"v":0.1,"v2":3.83}]},"mark":{"type":"rect","filled":false,"stroke":"#000000","strokeWidth":2.5,"strokeDash":[14,8]},"encoding":{"x2":{"field":"t2"},"y2":{"field":"v2"}}},
{"data":{"values":[{"t":296.4,"t2":400,"v":3.88}]},"mark":{"type":"rule","color":"black","strokeWidth":1},"encoding":{"x2":{"field":"t2"}}},
{"data":{"values":[{"t":329.2,"t2":365.9,"v":3.8,"v2":3.97}]},"mark":{"type":"rect","fill":"white","stroke":"black","strokeWidth":1},"encoding":{"x2":{"field":"t2"},"y2":{"field":"v2"}}},
{"data":{"values":[{"t":296.4,"v":3.88}]},"mark":{"type":"point","shape":"M2.4,-1.2L0,0L2.4,1.2","filled":false,"stroke":"black","strokeWidth":1,"size":36,"opacity":1},"encoding":{}},
{"data":{"values":[{"t":400,"v":3.88}]},"mark":{"type":"point","shape":"M-2.4,-1.2L0,0L-2.4,1.2","filled":false,"stroke":"black","strokeWidth":1,"size":36,"opacity":1},"encoding":{}},
{"data":{"values":[{"t":347.5,"v":3.885,"label":"90 sec"}]},"mark":{"type":"text","align":"center","baseline":"middle","fontSize":13,"color":"black"},"encoding":{"text":{"field":"label"}}},
{"data":{"values":[{"t":91.3,"v":3.5,"label":"SO₂/HCl"},{"t":51.1,"v":1.79,"label":"CO₂/HCl"},{"t":333.6,"v":2.09,"label":"SO₂/HF"},{"t":316.6,"v":0.65,"label":"CO₂/SO₂"}]},"mark":{"type":"text","align":"center","baseline":"middle","fontSize":19,"color":"black"},"encoding":{"text":{"field":"label"}}},
{"data":{"values":[{"t":331.8,"v":1.23,"label":"Av. ratio"},{"t":400.9,"v":0.41,"label":"Av. ratio"}]},"mark":{"type":"text","align":"center","baseline":"middle","fontSize":13,"color":"#222222"},"encoding":{"text":{"field":"label"}}},
{"data":{"values":[{"t":27,"v":3.87,"label":"(c)"}]},"mark":{"type":"text","align":"center","baseline":"middle","fontSize":23,"fontStyle":"italic","fontWeight":"bold","color":"black"},"encoding":{"text":{"field":"label"}}}
]}
],
"resolve":{"scale":{"y":"independent"}}
}
]}
],
"config":{
"font":"Liberation Sans",
"view":{"stroke":"black","strokeWidth":1},
"axis":{"grid":false,"domainColor":"black","tickColor":"black","labelColor":"black","titleColor":"black","tickSize":5,"labelFlush":false,"labelOverlap":false,"titleFontWeight":"normal","labelFont":"Liberation Sans","titleFont":"Liberation Sans","domainWidth":1,"tickWidth":1},
"text":{"font":"Liberation Sans"}
}
}
